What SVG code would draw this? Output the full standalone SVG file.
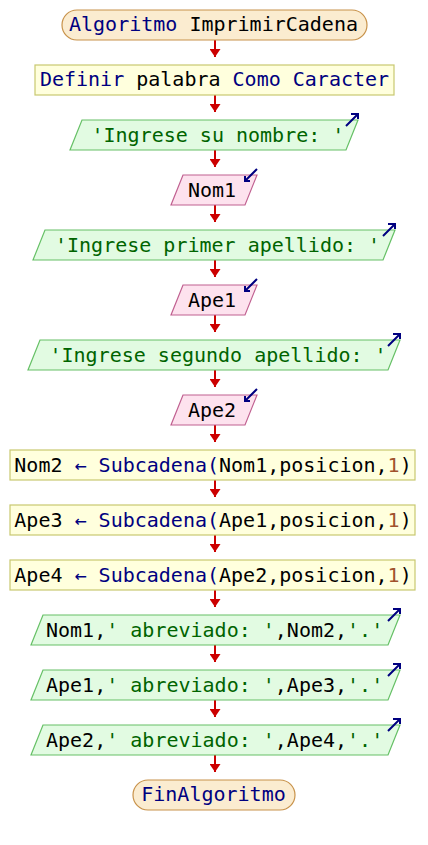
<svg xmlns="http://www.w3.org/2000/svg" width="428" height="845" viewBox="0 0 428 845">
  <style>
    text { font-family: "DejaVu Sans Mono", "Liberation Mono", monospace; font-size: 20px; fill: #000000; }
    .kw { fill: #000080; }
    .str { fill: #006400; }
    .num { fill: #a0522d; }
    .term { fill: #fbecd0; stroke: #c8924a; stroke-width: 1.2; }
    .proc { fill: #ffffdd; stroke: #c8c870; stroke-width: 1.2; }
    .out { fill: #e2fbe2; stroke: #66c066; stroke-width: 1.2; }
    .in { fill: #fde2ee; stroke: #c06090; stroke-width: 1.2; }
    .flow { stroke: #cc0000; stroke-width: 2; fill: none; }
    .icon { stroke: #000080; stroke-width: 2; fill: none; }
  </style>
  <defs>
    <marker id="head" markerWidth="11" markerHeight="8" refX="5.5" refY="8" orient="0" markerUnits="userSpaceOnUse">
      <path d="M0,0 L11,0 L5.5,8 Z" fill="#cc0000"/>
    </marker>
    <!-- output icon: arrow leaving the top-right corner -->
    <path id="outIcon" class="icon" d="M-12,6 L0,-6 M-7,-6 H0 V-1"/>
    <!-- input icon: arrow entering the top-right corner -->
    <path id="inIcon" class="icon" d="M0,-6 L-12,6 M-12,1 V6 H-7"/>
  </defs>

  <g id="connectors">
    <line class="flow" x1="215" y1="40" x2="215" y2="57" marker-end="url(#head)"/>
    <line class="flow" x1="215" y1="95" x2="215" y2="112" marker-end="url(#head)"/>
    <line class="flow" x1="215" y1="150" x2="215" y2="167" marker-end="url(#head)"/>
    <line class="flow" x1="215" y1="205" x2="215" y2="222" marker-end="url(#head)"/>
    <line class="flow" x1="215" y1="260" x2="215" y2="277" marker-end="url(#head)"/>
    <line class="flow" x1="215" y1="315" x2="215" y2="332" marker-end="url(#head)"/>
    <line class="flow" x1="215" y1="370" x2="215" y2="387" marker-end="url(#head)"/>
    <line class="flow" x1="215" y1="425" x2="215" y2="442" marker-end="url(#head)"/>
    <line class="flow" x1="215" y1="480" x2="215" y2="497" marker-end="url(#head)"/>
    <line class="flow" x1="215" y1="535" x2="215" y2="552" marker-end="url(#head)"/>
    <line class="flow" x1="215" y1="590" x2="215" y2="607" marker-end="url(#head)"/>
    <line class="flow" x1="215" y1="645" x2="215" y2="662" marker-end="url(#head)"/>
    <line class="flow" x1="215" y1="700" x2="215" y2="717" marker-end="url(#head)"/>
    <line class="flow" x1="215" y1="755" x2="215" y2="772" marker-end="url(#head)"/>
  </g>

  <g id="start">
    <rect class="term" x="62" y="10" width="305" height="30" rx="15" ry="15"/>
    <text x="213.5" y="31" text-anchor="middle"><tspan class="kw">Algoritmo</tspan> ImprimirCadena</text>
  </g>

  <g id="define">
    <rect class="proc" x="35" y="65" width="359" height="30"/>
    <text x="214.5" y="86" text-anchor="middle"><tspan class="kw">Definir</tspan> palabra <tspan class="kw">Como Caracter</tspan></text>
  </g>

  <g id="out1">
    <polygon class="out" points="82,120 358,120 346,150 70,150"/>
    <text x="91.5" y="142" class="str">'Ingrese su nombre: '</text>
    <use href="#outIcon" x="358" y="120"/>
  </g>

  <g id="in1">
    <polygon class="in" points="183,175 257,175 245,205 171,205"/>
    <text x="212" y="197" text-anchor="middle">Nom1</text>
    <use href="#inIcon" x="257" y="175"/>
  </g>

  <g id="out2">
    <polygon class="out" points="45,230 395,230 383,260 33,260"/>
    <text x="55" y="252" class="str">'Ingrese primer apellido: '</text>
    <use href="#outIcon" x="395" y="230"/>
  </g>

  <g id="in2">
    <polygon class="in" points="183,285 257,285 245,315 171,315"/>
    <text x="212" y="307" text-anchor="middle">Ape1</text>
    <use href="#inIcon" x="257" y="285"/>
  </g>

  <g id="out3">
    <polygon class="out" points="40,340 400,340 388,370 28,370"/>
    <text x="49.5" y="362" class="str">'Ingrese segundo apellido: '</text>
    <use href="#outIcon" x="400" y="340"/>
  </g>

  <g id="in3">
    <polygon class="in" points="183,395 257,395 245,425 171,425"/>
    <text x="212" y="417" text-anchor="middle">Ape2</text>
    <use href="#inIcon" x="257" y="395"/>
  </g>

  <g id="assign1">
    <rect class="proc" x="10" y="450" width="405" height="30"/>
    <text x="213" y="472" text-anchor="middle">Nom2 <tspan class="kw">← Subcadena(</tspan>Nom1,posicion,<tspan class="num">1</tspan>)</text>
  </g>

  <g id="assign2">
    <rect class="proc" x="10" y="505" width="405" height="30"/>
    <text x="213" y="527" text-anchor="middle">Ape3 <tspan class="kw">← Subcadena(</tspan>Ape1,posicion,<tspan class="num">1</tspan>)</text>
  </g>

  <g id="assign3">
    <rect class="proc" x="10" y="560" width="405" height="30"/>
    <text x="213" y="582" text-anchor="middle">Ape4 <tspan class="kw">← Subcadena(</tspan>Ape2,posicion,<tspan class="num">1</tspan>)</text>
  </g>

  <g id="out4">
    <polygon class="out" points="43,615 400,615 388,645 31,645"/>
    <text x="46" y="637">Nom1,<tspan class="str">' abreviado: '</tspan>,Nom2,<tspan class="str">'.'</tspan></text>
    <use href="#outIcon" x="400" y="615"/>
  </g>

  <g id="out5">
    <polygon class="out" points="43,670 400,670 388,700 31,700"/>
    <text x="46" y="692">Ape1,<tspan class="str">' abreviado: '</tspan>,Ape3,<tspan class="str">'.'</tspan></text>
    <use href="#outIcon" x="400" y="670"/>
  </g>

  <g id="out6">
    <polygon class="out" points="43,725 400,725 388,755 31,755"/>
    <text x="46" y="747">Ape2,<tspan class="str">' abreviado: '</tspan>,Ape4,<tspan class="str">'.'</tspan></text>
    <use href="#outIcon" x="400" y="725"/>
  </g>

  <g id="end">
    <rect class="term" x="133" y="780" width="162" height="30" rx="15" ry="15"/>
    <text x="213.5" y="801" text-anchor="middle" class="kw">FinAlgoritmo</text>
  </g>
</svg>
